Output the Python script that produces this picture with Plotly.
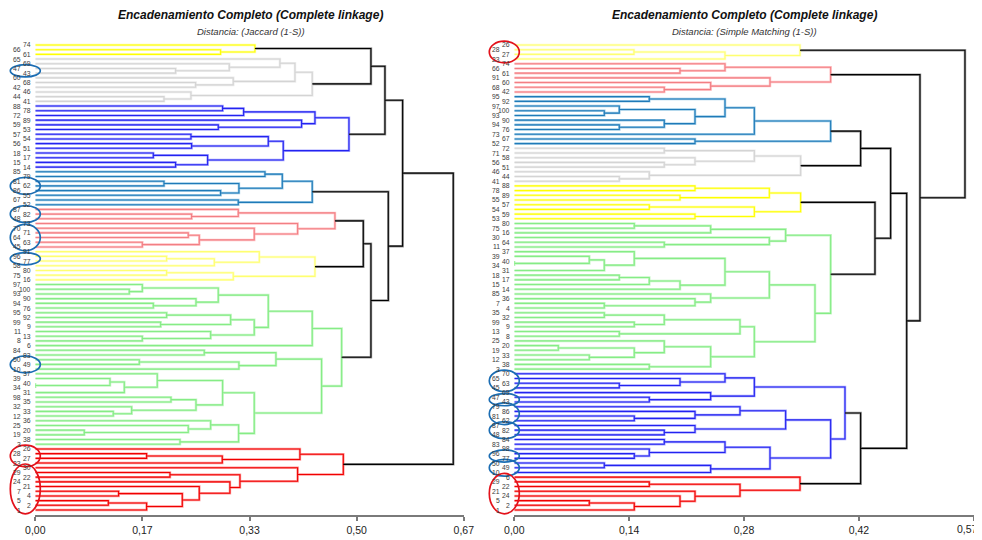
import plotly.graph_objects as go

# ---------------- data ----------------
left_leaves = ["74", "66", "61", "65", "69", "47", "43", "60", "68", "42", "46", "44", "41",
               "88", "78", "72", "89", "59", "53", "57", "54", "56", "51", "18", "17", "15", "14",
               "85", "79", "81", "62", "86", "55", "67", "52",
               "87", "82", "48", "73", "70", "71", "64", "63", "45",
               "91", "96", "77", "58", "80", "75", "16",
               "97", "100", "93", "90", "94", "76", "95", "92", "99", "9", "11", "13", "8", "6",
               "84", "83", "50", "49", "10", "37", "39", "40", "34", "31", "98", "35", "32", "33",
               "12", "36", "25", "20", "19", "38", "3",
               "26", "28", "27", "23", "30", "29", "22", "24", "21", "7", "4", "5", "2", "1"]

# merge height between consecutive leaves (leaf i and leaf i+1), Jaccard
left_gaps = [0.3417, 0.2883, 0.5222, 0.3806, 0.3018, 0.2183, 0.4040, 0.3080, 0.2494, 0.4309,
             0.2422, 0.2002, 0.5440, 0.2914, 0.3241, 0.4351, 0.4143, 0.2847, 0.4880, 0.2422,
             0.3625, 0.2432, 0.3858, 0.1836, 0.2681, 0.2183, 0.5715, 0.3573, 0.3843, 0.2002,
             0.3168, 0.2883, 0.4309, 0.3158, 0.5492, 0.3158, 0.2432, 0.4662, 0.4081, 0.3407,
             0.2380, 0.2551, 0.1665, 0.5103, 0.3485, 0.2043, 0.2785, 0.4351, 0.2043, 0.3080,
             0.5222, 0.1665, 0.1462, 0.2847, 0.2500, 0.1836, 0.3625, 0.2043, 0.3039, 0.1950,
             0.3407, 0.2728, 0.1665, 0.4309, 0.4766, 0.2629, 0.3744, 0.1618, 0.3168, 0.4454,
             0.1898, 0.1162, 0.0000, 0.1385, 0.2914, 0.2111, 0.2500, 0.1499, 0.1213, 0.3407,
             0.2728, 0.2380, 0.0762, 0.3163, 0.2251, 0.6503, 0.4117, 0.1732, 0.2909, 0.4792,
             0.4081, 0.2095, 0.3184, 0.3028, 0.2551, 0.1296, 0.2287, 0.1136, 0.1732]

left_group_sizes = [3, 10, 14, 8, 9, 7, 35, 14]

left_circled = [["47", "43"], ["81", "62", "86"], ["87", "82", "48"],
                ["70", "71", "64", "63", "45"], ["96", "77"], ["50", "49", "10"],
                ["26", "28", "27", "23"], ["30", "29", "22", "24", "21", "7", "4", "5", "2", "1"]]

right_leaves = ["26", "28", "27", "23",
                "74", "66", "61", "91", "60", "68", "42",
                "95", "92", "97", "100", "93", "90", "94", "76", "73", "67", "52",
                "72", "71", "58", "56", "51", "46", "44", "41",
                "88", "78", "89", "55", "57", "54", "59", "53",
                "80", "75", "16", "30", "64", "11", "37", "39", "40", "34", "31", "18", "17",
                "15", "14", "85", "36", "7", "4", "35", "32", "99", "9", "13", "8", "25", "20",
                "19", "33", "12", "38", "3",
                "70", "65", "63", "45", "69", "47", "43", "79", "86", "81", "62", "87", "82",
                "48", "84", "83", "98", "96", "77", "50", "49", "10",
                "6", "29", "22", "21", "24", "5", "2", "1"]

# merge height between consecutive leaves, Simple Matching
right_gaps = [0.3524, 0.1476, 0.2599, 0.5559, 0.2599, 0.2044, 0.3902, 0.3154, 0.2422, 0.1850,
              0.5004, 0.1665, 0.2599, 0.1295, 0.1110, 0.2229, 0.1850, 0.1295, 0.2961, 0.3902,
              0.2229, 0.4272, 0.1850, 0.2961, 0.2229, 0.1850, 0.3532, 0.1665, 0.1295, 0.4642,
              0.2229, 0.3146, 0.2044, 0.3532, 0.1665, 0.2961, 0.2229, 0.4449, 0.1480, 0.2422,
              0.3347, 0.3146, 0.1850, 0.3902, 0.1480, 0.0925, 0.0000, 0.1110, 0.2599, 0.1295,
              0.1665, 0.2044, 0.3146, 0.2422, 0.2229, 0.1110, 0.3709, 0.1110, 0.1850, 0.1480,
              0.2784, 0.1295, 0.2961, 0.1850, 0.0543, 0.1480, 0.0925, 0.2422, 0.1665, 0.4840,
              0.2599, 0.2044, 0.1295, 0.2961, 0.2422, 0.1665, 0.4079, 0.2784, 0.2229, 0.1480,
              0.3347, 0.2229, 0.1850, 0.3902, 0.1850, 0.2599, 0.1665, 0.1480, 0.3154, 0.1110,
              0.2422, 0.4272, 0.3524, 0.1665, 0.2784, 0.2229, 0.2044, 0.0925, 0.1480]

right_group_sizes = [4, 7, 11, 8, 8, 32, 22, 8]

right_circled = [["26", "28", "27", "23"], ["70", "65", "63", "45"], ["47", "43"],
                 ["79", "86", "81", "62"], ["87", "82", "48"], ["96", "77"], ["50", "49", "10"],
                 ["6", "29", "22", "21", "24", "5", "2", "1"]]

left_max = 2 / 3
right_max = 17 / 30
left_ticks = ["0,00", "0,17", "0,33", "0,50", "0,67"]
right_ticks = ["0,00", "0,14", "0,28", "0,42", "0,57"]

title_text = "Encadenamiento Completo (Complete linkage)"
left_subtitle = "Distancia: (Jaccard (1-S))"
right_subtitle = "Distancia: (Simple Matching (1-S))"

# ---------------- styles ----------------
FONT = "Liberation Sans Narrow, Arial Narrow, Liberation Sans, Arial, sans-serif"
PALETTE = {
    "yellow": ("#ffff00", "#ffffa8"),
    "paleyellow": ("#ffff70", "#ffffc8"),
    "gray": ("#d4d4d4", "#ececec"),
    "blue": ("#2323f0", "#a8a8ff"),
    "steel": ("#1f7ab8", "#9ccbe6"),
    "salmon": ("#f27f84", "#ffc4c6"),
    "green": ("#86ec86", "#c6f7c6"),
    "red": ("#f00000", "#ff9a9a"),
    "black": ("#000000", "#9a9a9a"),
}
LEFT_COLORS = ["yellow", "gray", "blue", "steel", "salmon", "paleyellow", "green", "red"]
RIGHT_COLORS = ["paleyellow", "salmon", "steel", "gray", "yellow", "green", "blue", "red"]
LEFT_CIRCLE_COLORS = ["blue"] * 6 + ["red"] * 2
RIGHT_CIRCLE_COLORS = ["red"] + ["blue"] * 6 + ["red"]
CIRCLE_LINE = {"blue": "#1b6db3", "red": "#e3121b"}
TICK_FONT = dict(family=FONT, size=10.5, color="#222222")

# page body keeps an 8px margin: figure is sized/placed to compensate
OFF = 8
FIG_W, FIG_H = 982 - OFF, 540 - OFF
M_T, M_B = 40 - OFF, 25
PLOT_H = FIG_H - M_T - M_B


def px(xpage):
    return (xpage - OFF) / FIG_W


def py(ypage):
    return (FIG_H - M_B - (ypage - OFF)) / PLOT_H


N = 100
R0, R1 = N - 1 + 1.06, -1.06  # reversed y range (bottom, top)


def build_tree(gaps):
    n = len(gaps) + 1
    leaves = [{"lo": i, "hi": i, "y": float(i), "h": 0.0} for i in range(n)]
    by_lo = {i: leaves[i] for i in range(n)}
    by_hi = {i: leaves[i] for i in range(n)}
    nodes = []
    for i in sorted(range(n - 1), key=lambda k: (gaps[k], k)):
        a = by_hi.pop(i)
        b = by_lo.pop(i + 1)
        del by_lo[a["lo"]]
        del by_hi[b["hi"]]
        node = {"lo": a["lo"], "hi": b["hi"], "y": (a["y"] + b["y"]) / 2.0,
                "h": gaps[i], "a": a, "b": b}
        by_lo[node["lo"]] = node
        by_hi[node["hi"]] = node
        nodes.append(node)
    return nodes


def group_of(sizes):
    g = []
    for gi, s in enumerate(sizes):
        g += [gi] * s
    return g


def dendro_traces(gaps, sizes, colors, xa, ya):
    assert len(gaps) == N - 1 and sum(sizes) == N
    grp = group_of(sizes)
    segs = {}
    for nd in build_tree(gaps):
        key = colors[grp[nd["lo"]]] if grp[nd["lo"]] == grp[nd["hi"]] else "black"
        xs, ys = segs.setdefault(key, ([], []))
        a, b, h = nd["a"], nd["b"], nd["h"]
        xs += [a["h"], h, h, b["h"], None]
        ys += [a["y"], a["y"], b["y"], b["y"], None]
    shadows, mains = [], []
    for key, (xs, ys) in segs.items():
        main, shade = PALETTE[key]
        shadows.append(go.Scatter(x=xs, y=ys, mode="lines", xaxis=xa, yaxis=ya,
                                  line=dict(color=shade, width=2.5), hoverinfo="skip",
                                  showlegend=False))
        mains.append(go.Scatter(x=xs, y=ys, mode="lines", xaxis=xa, yaxis=ya,
                                line=dict(color=main, width=1.1), hoverinfo="skip",
                                showlegend=False))
    return shadows + mains


fig = go.Figure()
for t in dendro_traces(left_gaps, left_group_sizes, LEFT_COLORS, "x", "y"):
    fig.add_trace(t)
for t in dendro_traces(right_gaps, right_group_sizes, RIGHT_COLORS, "x2", "y2"):
    fig.add_trace(t)


def yfrac(p):
    return (R0 - p) / (R0 - R1)


def add_leaf_labels(leaves, xdom, yref):
    for i, lab in enumerate(leaves):
        fig.add_annotation(text=lab, xref=xdom, yref=yref, x=0, y=i, xanchor="right",
                           yanchor="middle", xshift=-2.5 if i % 2 == 0 else -12,
                           showarrow=False, font=dict(family=FONT, size=6.8, color="#3a3a3a"))


def add_circles(leaves, circled, ccolors, xdom, ydom):
    pos = {lab: i for i, lab in enumerate(leaves)}
    for labs, c in zip(circled, ccolors):
        idx = [pos[l] for l in labs]
        lo, hi = min(idx) - 0.8, max(idx) + 0.8
        fig.add_shape(type="circle", xref=xdom, yref=ydom, xsizemode="pixel", xanchor=0,
                      x0=-25, x1=5, y0=yfrac(hi), y1=yfrac(lo),
                      line=dict(color=CIRCLE_LINE[c], width=1.7), layer="above")


add_leaf_labels(left_leaves, "x domain", "y")
add_leaf_labels(right_leaves, "x2 domain", "y2")
add_circles(left_leaves, left_circled, LEFT_CIRCLE_COLORS, "x domain", "y domain")
add_circles(right_leaves, right_circled, RIGHT_CIRCLE_COLORS, "x2 domain", "y2 domain")

# titles
for xc, sub in [(250.5, left_subtitle), (744.5, right_subtitle)]:
    fig.add_annotation(text="<b><i>" + title_text + "</i></b>", xref="paper", yref="paper",
                       x=px(xc), y=py(15), xanchor="center", yanchor="middle",
                       showarrow=False, font=dict(family=FONT, size=12, color="#111111"))
    fig.add_annotation(text="<i>" + sub + "</i>", xref="paper", yref="paper",
                       x=px(xc), y=py(31), xanchor="center", yanchor="middle",
                       showarrow=False, font=dict(family=FONT, size=9.5, color="#333333"))


def xaxis_style(domain, vmax, ticks, anchor, last_label=True):
    text = list(ticks) if last_label else list(ticks[:-1]) + [""]
    return dict(domain=domain, anchor=anchor, range=[0, vmax], showgrid=False,
                zeroline=False, showline=True, linecolor="#7a7a7a", linewidth=2,
                ticks="outside", ticklen=4, tickwidth=1.5, tickcolor="#7a7a7a",
                tickvals=[vmax * k / (len(ticks) - 1) for k in range(len(ticks))],
                ticktext=text, tickfont=TICK_FONT,
                ticklabeloverflow="allow", fixedrange=True)


def yaxis_style(anchor):
    return dict(domain=[0, 1], anchor=anchor, range=[R0, R1], visible=False,
                showgrid=False, zeroline=False, fixedrange=True)


# last right tick label sits at the page edge: anchor it on its right side
fig.add_annotation(text=right_ticks[-1], xref="x2 domain", yref="paper", x=1, y=py(528.5),
                   xanchor="right", yanchor="middle", xshift=6, showarrow=False,
                   font=TICK_FONT)

fig.update_layout(
    width=FIG_W, height=FIG_H,
    margin=dict(l=0, r=0, t=M_T, b=M_B, autoexpand=False),
    paper_bgcolor="white", plot_bgcolor="white",
    showlegend=False,
    xaxis=xaxis_style([px(35.3), px(463.8)], left_max, left_ticks, "y"),
    yaxis=yaxis_style("x"),
    xaxis2=xaxis_style([px(514.3), px(973.7)], right_max, right_ticks, "y2",
                       last_label=False),
    yaxis2=yaxis_style("x2"),
)

fig.write_html("out.html")
